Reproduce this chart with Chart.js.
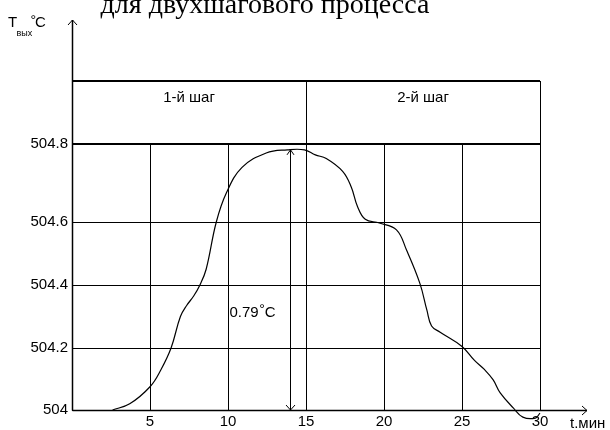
<!DOCTYPE html>
<html>
<head>
<meta charset="utf-8">
<script src="https://cdn.jsdelivr.net/npm/chart.js@4.4.1/dist/chart.umd.min.js"></script>
<style>
body { margin: 0; background: #fff; }
#wrap { width: 610px; height: 430px; position: relative; }
</style>
</head>
<body>
<div id="wrap"><canvas id="container"></canvas></div>
<script>
// t, мин
const timeMin = [2.6, 3.7, 5.0, 5.7, 6.35, 6.95, 7.35, 7.8, 8.2, 8.6, 9.25, 9.9, 10.9, 12.45, 13.8, 14.9,
    15.6, 16.3, 17.35, 17.9, 18.3, 18.8, 19.7, 20.8, 21.45, 22.3, 22.75, 23.05, 23.6, 25.0,
    25.8, 26.45, 27.0, 27.45, 28.3, 28.9, 29.7, 30.0]
// Tвых, °C
const tempOut = [504.0, 504.02, 504.075, 504.13, 504.2, 504.3, 504.335, 504.365, 504.4, 504.45, 504.6, 504.675, 504.74, 504.777, 504.785, 504.785,
    504.772, 504.763, 504.73, 504.69, 504.64, 504.607, 504.597, 504.575, 504.51, 504.405, 504.32, 504.27, 504.25, 504.205,
    504.16, 504.13, 504.097, 504.055, 504.006, 503.977, 503.974, 503.99]

const xTicks = [5, 10, 15, 20, 25, 30]
const yTicks = [504, 504.2, 504.4, 504.6, 504.8]
// the original axis is not evenly spaced: drawn gaps between y ticks, bottom to top
const yGaps = [62, 63, 63, 78]

const stepNames = ['1-й шаг', '2-й шаг']
const stepBounds = [0, 15, 30]

const deltaAt = 14
const deltaRange = [504, 504.785]
const deltaLabel = '0.79'

const titleText = 'для двухшагового процесса'

const yEdges = [0]
yGaps.forEach(g => yEdges.push(yEdges[yEdges.length - 1] + g))
const ySpan = yEdges[yEdges.length - 1]

function segFor(v) {
    let i = 0
    while (i < yTicks.length - 2 && v > yTicks[i + 1]) i++
    return i
}
function warp(v) {
    const i = segFor(v)
    const f = (v - yTicks[i]) / (yTicks[i + 1] - yTicks[i])
    return (yEdges[i] + f * yGaps[i]) / ySpan
}
function unwarp(d) {
    const p = d * ySpan
    let i = 0
    while (i < yGaps.length - 1 && p > yEdges[i + 1]) i++
    return yTicks[i] + (p - yEdges[i]) / yGaps[i] * (yTicks[i + 1] - yTicks[i])
}

class WarpScale extends Chart.LinearScale {
    getPixelForValue(value) {
        return value === null ? NaN : this.getPixelForDecimal(warp(value))
    }
    getValueForPixel(pixel) {
        return unwarp(this.getDecimalForPixel(pixel))
    }
}
WarpScale.id = 'warp'
WarpScale.defaults = Chart.LinearScale.defaults
Chart.register(WarpScale)

const SANS = '"Liberation Sans", Arial, sans-serif'

function seg(ctx, x1, y1, x2, y2) {
    ctx.beginPath()
    ctx.moveTo(x1, y1)
    ctx.lineTo(x2, y2)
    ctx.stroke()
}

const overlay = {
    id: 'overlay',
    afterDraw(chart) {
        const { ctx } = chart
        const x = chart.scales.x
        const y = chart.scales.y
        const ax = Math.round(x.getPixelForValue(0)) + 0.5
        const ay = Math.round(y.getPixelForValue(yTicks[0])) + 0.5
        ctx.save()
        ctx.strokeStyle = '#000'
        ctx.fillStyle = '#000'

        // axes with arrows
        ctx.lineWidth = 1.5
        seg(ctx, ax, ay, ax, 20)
        seg(ctx, ax, ay, 587, ay)
        ctx.lineWidth = 1
        seg(ctx, ax, 20, ax - 4.5, 25)
        seg(ctx, ax, 20, ax + 4.5, 25)
        seg(ctx, 587, ay, 582, ay - 4.5)
        seg(ctx, 587, ay, 582, ay + 4.5)

        // step band
        const bandTop = 81
        const left = x.getPixelForValue(stepBounds[0])
        const right = x.getPixelForValue(stepBounds[stepBounds.length - 1])
        ctx.lineWidth = 2
        seg(ctx, left, bandTop, right, bandTop)
        ctx.lineWidth = 1
        stepBounds.forEach(b => {
            const bx = Math.round(x.getPixelForValue(b)) + 0.5
            seg(ctx, bx, bandTop, bx, y.top)
        })
        ctx.font = '15px ' + SANS
        ctx.textAlign = 'center'
        ctx.textBaseline = 'middle'
        stepNames.forEach((name, i) => {
            const cx = (x.getPixelForValue(stepBounds[i]) + x.getPixelForValue(stepBounds[i + 1])) / 2
            ctx.fillText(name, cx, 98)
        })

        // delta arrow
        const dx = Math.round(x.getPixelForValue(deltaAt)) + 0.5
        const yLo = y.getPixelForValue(deltaRange[0])
        const yHi = y.getPixelForValue(deltaRange[1])
        seg(ctx, dx, yLo, dx, yHi)
        seg(ctx, dx, yHi, dx - 3.5, yHi + 5)
        seg(ctx, dx, yHi, dx + 3.5, yHi + 5)
        seg(ctx, dx, yLo, dx - 4.5, yLo - 5)
        seg(ctx, dx, yLo, dx + 4.5, yLo - 5)

        ctx.textAlign = 'left'
        ctx.textBaseline = 'alphabetic'
        const ly = y.getPixelForValue(504.3)
        let tx = dx - 61
        ctx.font = '15px ' + SANS
        ctx.fillText(deltaLabel, tx, ly)
        tx += ctx.measureText(deltaLabel).width + 0.5
        ctx.font = '14px ' + SANS
        ctx.fillText('°', tx, ly - 3)
        tx += ctx.measureText('°').width
        ctx.font = '15px ' + SANS
        ctx.fillText('C', tx, ly)

        // axis names
        ctx.font = '15px ' + SANS
        ctx.fillText('T', 8, 27)
        ctx.font = '9px ' + SANS
        ctx.fillText('вых', 16.5, 36)
        ctx.font = '14px ' + SANS
        ctx.fillText('°', 30.5, 25)
        ctx.font = '15px ' + SANS
        ctx.fillText('C', 35, 27)
        ctx.fillText('t.мин', 570, 428)

        // title, cut off at the top as in the source
        ctx.font = '28px "Liberation Serif", "Times New Roman", serif'
        ctx.textAlign = 'center'
        ctx.fillText(titleText, 265, 13)
        ctx.restore()
    }
}

const tempChart = new Chart(document.getElementById('container'), {
    type: 'line',
    data: {
        datasets: [
            {
                label: 'Tвых',
                data: timeMin.map((t, i) => ({ x: t, y: tempOut[i] })),
                borderColor: '#000',
                borderWidth: 1.2,
                pointRadius: 0,
                fill: false,
                tension: 0.4,
                clip: false
            }
        ]
    },
    options: {
        animation: false,
        responsive: true,
        maintainAspectRatio: false,
        layout: { padding: { top: 144, right: 70, left: 0, bottom: 0 } },
        plugins: {
            legend: { display: false },
            tooltip: { enabled: false }
        },
        scales: {
            x: {
                type: 'linear',
                min: 0,
                max: 30,
                afterBuildTicks: s => { s.ticks = xTicks.map(v => ({ value: v })) },
                afterFit: s => { s.height = 20 },
                border: { display: false },
                grid: { color: '#000', lineWidth: 1, drawTicks: false },
                ticks: {
                    color: '#000',
                    padding: 3,
                    maxRotation: 0,
                    autoSkip: false,
                    font: { family: SANS, size: 15 },
                    callback: v => String(v)
                }
            },
            y: {
                type: 'warp',
                min: yTicks[0],
                max: yTicks[yTicks.length - 1],
                afterBuildTicks: s => { s.ticks = yTicks.map(v => ({ value: v })) },
                afterFit: s => { s.width = 72 },
                border: { display: false },
                grid: {
                    color: '#000',
                    drawTicks: false,
                    lineWidth: c => (c.tick && c.tick.value >= 504.79 ? 2 : 1)
                },
                ticks: {
                    color: '#000',
                    padding: 4,
                    autoSkip: false,
                    font: { family: SANS, size: 15 },
                    callback: v => String(+v.toFixed(1))
                }
            }
        }
    },
    plugins: [overlay]
})
</script>
</body>
</html>
